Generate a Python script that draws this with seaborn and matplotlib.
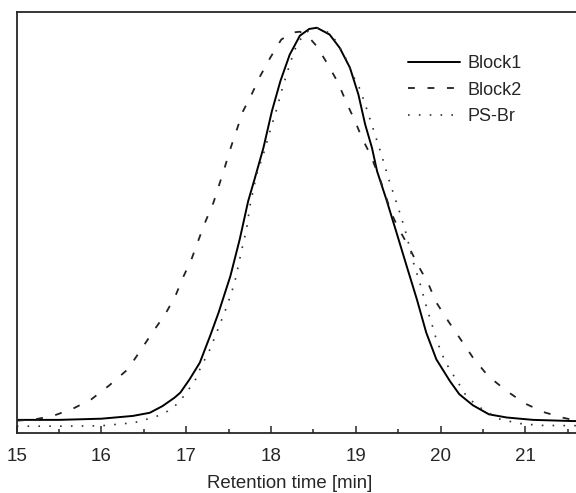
import numpy as np
import pandas as pd
import matplotlib
matplotlib.use("Agg")
import matplotlib.pyplot as plt
from matplotlib.ticker import MultipleLocator
import seaborn as sns

sns.set_style("ticks")
plt.rcParams['font.family'] = ['Liberation Sans', 'DejaVu Sans']

# GPC traces, normalised to peak height
block1_t = [15.0, 15.5, 16.0, 16.37, 16.57, 16.72, 16.86, 16.93, 17.04, 17.16, 17.28, 17.38,
            17.52, 17.63, 17.73, 17.81, 17.91, 18.01, 18.11, 18.22, 18.34, 18.45, 18.54,
            18.69, 18.81, 18.93, 19.03, 19.11, 19.19, 19.25, 19.36, 19.48, 19.60, 19.72,
            19.83, 19.95, 20.11, 20.22, 20.38, 20.57, 20.78, 21.09, 21.56, 21.8]
block1_y = [0.007, 0.007, 0.01, 0.017, 0.025, 0.042, 0.063, 0.076, 0.110, 0.152, 0.219, 0.278,
            0.371, 0.464, 0.561, 0.62, 0.696, 0.789, 0.865, 0.932, 0.98, 0.997, 1.0,
            0.983, 0.949, 0.899, 0.831, 0.755, 0.696, 0.637, 0.565, 0.481, 0.396, 0.312,
            0.228, 0.16, 0.105, 0.072, 0.044, 0.021, 0.013, 0.007, 0.004, 0.004]

block2_t = [15.0, 15.21, 15.44, 15.66, 15.88, 16.09, 16.31, 16.47, 16.60, 16.75, 16.87, 16.96,
            17.06, 17.14, 17.22, 17.32, 17.44, 17.53, 17.67, 17.77, 17.87, 17.99, 18.12,
            18.25, 18.34, 18.45, 18.54, 18.67, 18.79, 18.89, 18.99, 19.07, 19.17, 19.28,
            19.42, 19.50, 19.62, 19.74, 19.85, 19.95, 20.09, 20.21, 20.38, 20.56, 20.78,
            20.99, 21.21, 21.43, 21.56, 21.8]
block2_y = [0.005, 0.008, 0.018, 0.035, 0.059, 0.094, 0.135, 0.186, 0.228, 0.274, 0.32, 0.367,
            0.413, 0.46, 0.506, 0.557, 0.637, 0.70, 0.789, 0.831, 0.877, 0.924, 0.97,
            0.988, 0.99, 0.975, 0.953, 0.907, 0.861, 0.81, 0.764, 0.722, 0.679, 0.62,
            0.53, 0.493, 0.447, 0.396, 0.354, 0.304, 0.257, 0.219, 0.165, 0.118, 0.08,
            0.049, 0.027, 0.013, 0.007, 0.004]

psbr_t = [15.0, 15.5, 16.0, 16.39, 16.64, 16.78, 16.91, 17.10, 17.16, 17.28, 17.38, 17.48,
          17.57, 17.65, 17.71, 17.75, 17.83, 17.91, 17.99, 18.07, 18.14, 18.22, 18.28,
          18.38, 18.48, 18.58, 18.71, 18.79, 18.87, 18.95, 19.05, 19.13, 19.21, 19.30,
          19.39, 19.50, 19.58, 19.68, 19.76, 19.83, 19.91, 19.95, 20.05, 20.13, 20.21,
          20.29, 20.42, 20.68, 20.92, 21.17, 21.8]
psbr_y = [-0.009, -0.009, -0.008, 0.0, 0.015, 0.029, 0.05, 0.105, 0.135, 0.186, 0.24, 0.295,
          0.354, 0.434, 0.489, 0.548, 0.629, 0.68, 0.74, 0.797, 0.852, 0.907, 0.945,
          0.983, 0.997, 1.0, 0.983, 0.958, 0.928, 0.886, 0.844, 0.793, 0.74, 0.68,
          0.615, 0.544, 0.489, 0.405, 0.35, 0.295, 0.24, 0.21, 0.156, 0.127, 0.10,
          0.072, 0.044, 0.01, -0.002, -0.007, -0.008]

fig = plt.figure(figsize=(5.76, 4.93), dpi=100)
ax = fig.add_axes([0.029, 0.1227, 0.9936, 0.853])

sns.lineplot(x=block1_t, y=block1_y, ax=ax, color="black", lw=1.4, label="Block1")
sns.lineplot(x=block2_t, y=block2_y, ax=ax, color="#222222", lw=1.3,
             linestyle=(0, (3.8, 7)), label="Block2")
sns.lineplot(x=psbr_t, y=psbr_y, ax=ax, color="#333333", lw=1.2,
             linestyle=(0, (1, 5.5)), label="PS-Br")

ax.set_xlim(15, 21.75)
ax.set_ylim(-0.025, 1.04)
ax.xaxis.set_major_locator(MultipleLocator(1))
ax.xaxis.set_minor_locator(MultipleLocator(0.5))
ax.set_yticks([])
ax.tick_params(axis="x", which="major", direction="in", length=5, width=1.1,
               labelsize=13.5, pad=11)
ax.tick_params(axis="x", which="minor", direction="in", length=3, width=1.1)
ax.set_xlabel("Retention time [min]", fontsize=13.4, va="center")
ax.xaxis.set_label_coords(0.477, -0.121)
ax.set_ylabel("")
for s in ax.spines.values():
    s.set_linewidth(1.3)

leg = ax.legend(loc="upper left", bbox_to_anchor=(0.6836, 0.8977), frameon=False,
                fontsize=13, handlelength=2.88, handletextpad=0.44, labelspacing=0.53,
                borderpad=0, borderaxespad=0)

fig.savefig("out.png", dpi=100)
